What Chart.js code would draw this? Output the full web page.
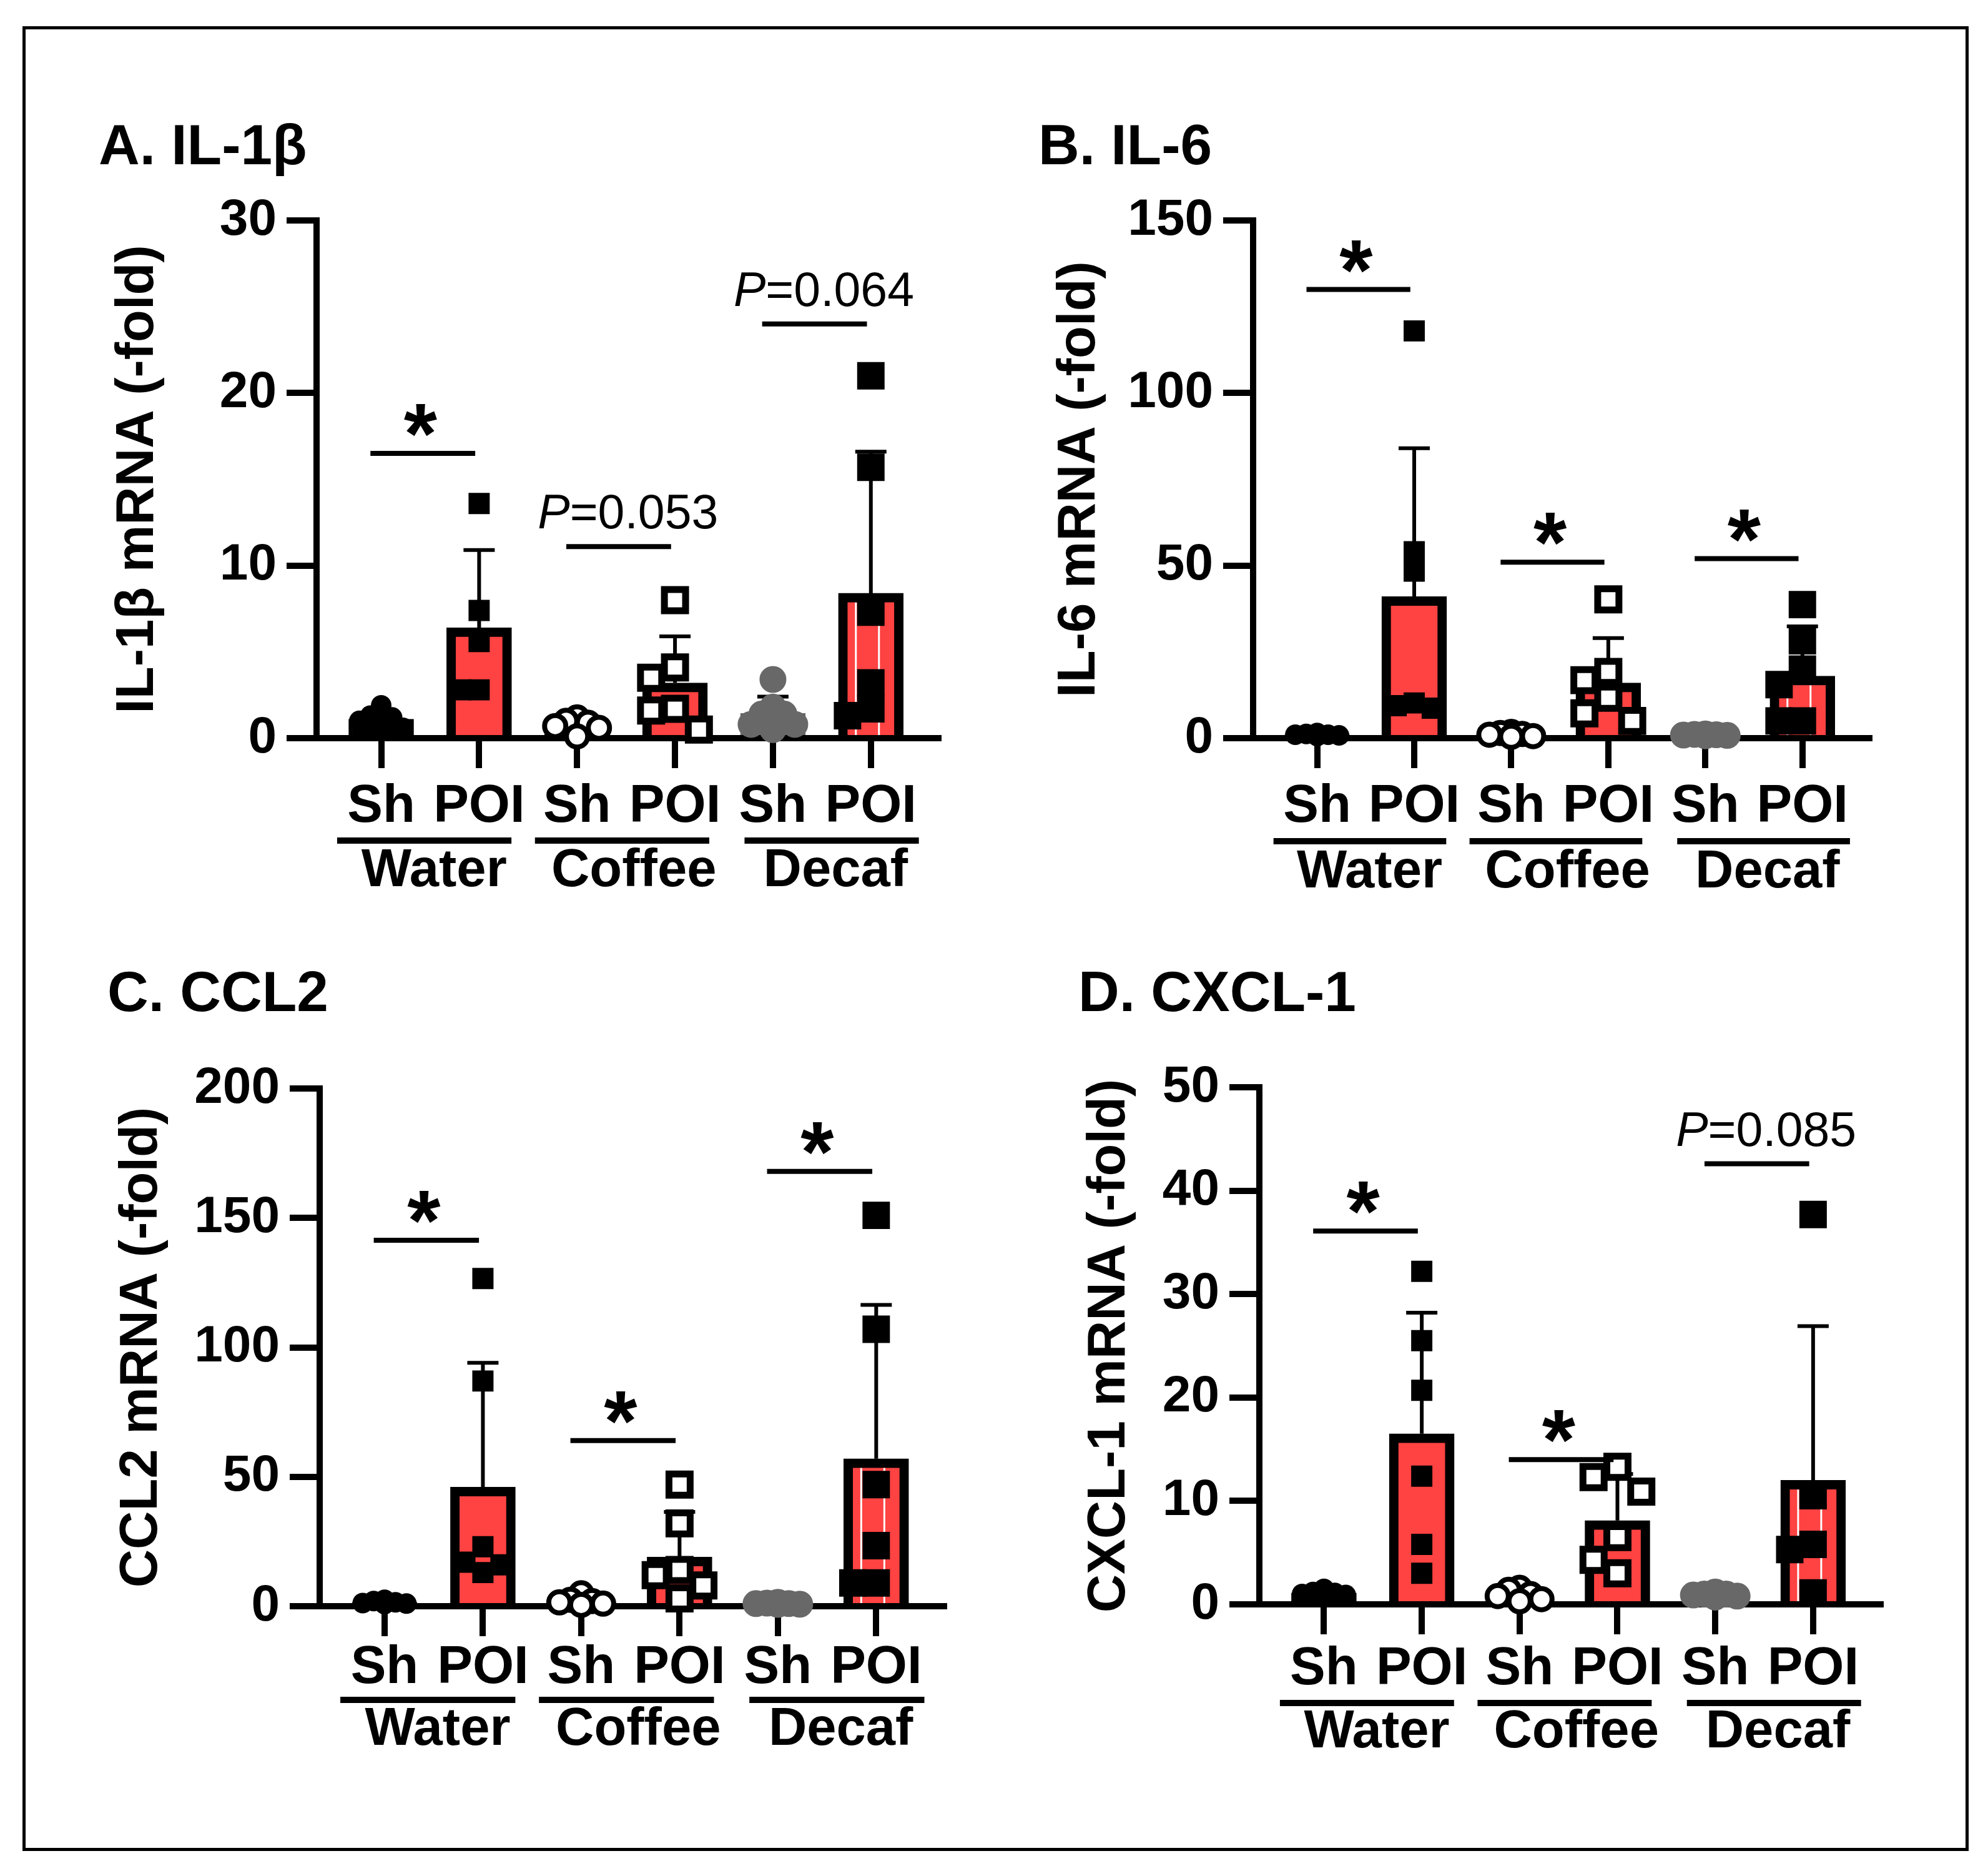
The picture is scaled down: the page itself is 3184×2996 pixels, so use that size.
<!DOCTYPE html>
<html><head><meta charset="utf-8">
<script src="https://cdn.jsdelivr.net/npm/chart.js@4.4.1/dist/chart.umd.min.js"></script>
<style>
html,body{margin:0;padding:0;background:#fff;width:3184px;height:2996px;overflow:hidden;}
#frame{position:absolute;left:36px;top:42px;width:3107px;height:2912px;border:5px solid #000;}
.pc{position:absolute;}
canvas{display:block;}
</style></head><body>
<div id="frame"></div>
<script>
// ---------------- DATA ----------------
// category order: Water Sh, Water POI, Coffee Sh, Coffee POI, Decaf Sh, Decaf POI
const categories = ['Sh', 'POI', 'Sh', 'POI', 'Sh', 'POI'];
const groups = ['Water', 'Coffee', 'Decaf'];
const panelTitles = ['A. IL-1β', 'B. IL-6', 'C. CCL2', 'D. CXCL-1'];
const yTitles = ['IL-1β mRNA (-fold)', 'IL-6 mRNA (-fold)', 'CCL2 mRNA (-fold)', 'CXCL-1 mRNA (-fold)'];
const yMax = [30, 150, 200, 50];
const yStep = [10, 50, 50, 10];

// Panel A: IL-1beta
const il1bMeans = [1.1, 6.4, 0.75, 3.2, 1.44, 8.4];
const il1bSD = [0.5, 4.5, 0.4, 2.7, 0.97, 8.2];
const il1bPoints = [
  [1.9, 1.3, 1.2, 1.0, 0.7, 0.6],
  [13.6, 7.4, 5.6, 2.8, 2.8],
  [1.2, 1.0, 0.9, 0.7, 0.6, 0.1],
  [8.0, 4.1, 3.5, 1.7, 1.6, 0.5],
  [3.4, 1.8, 1.4, 1.4, 0.8, 0.8, 0.5],
  [21.0, 15.7, 7.3, 3.2, 1.7, 1.3]
];
const il1bSigY = [16.5, 11.1, 24.0];
const il1bSigText = ['*', 'P=0.053', 'P=0.064'];

// Panel B: IL-6
const il6Means = [1.0, 41.0, 1.2, 16.0, 0.95, 18.0];
const il6SD = [0.3, 43.0, 0.5, 13.0, 0.2, 14.4];
const il6Points = [
  [1.5, 1.2, 1.0, 1.0, 0.8, 0.6],
  [118, 54, 48.4, 10.2, 9.4, 8.7],
  [1.8, 1.5, 1.2, 1.0, 0.6, 0.4],
  [40.2, 19.2, 16.8, 11.7, 7.2, 5.0],
  [1.2, 1.1, 1.0, 0.9, 0.8, 0.7],
  [38.7, 28.2, 20.0, 15.5, 5.0, 5.0]
];
const il6SigY = [130, 51, 52];
const il6SigText = ['*', '*', '*'];

// Panel C: CCL2
const ccl2Means = [1.5, 46.0, 2.1, 19.0, 1.0, 57.0];
const ccl2SD = [0.6, 48.0, 1.6, 17.4, 0.3, 59.4];
const ccl2Points = [
  [2.5, 2.0, 1.5, 1.2, 1.0, 0.8],
  [126.6, 87, 23, 17, 16, 13],
  [5.0, 2.5, 2.0, 1.5, 1.0, 0.5],
  [47, 32, 14, 12, 8, 3],
  [1.5, 1.2, 1.0, 1.0, 0.8, 0.7],
  [151, 107, 47, 23.4, 9, 9]
];
const ccl2SigY = [141.4, 64, 168];
const ccl2SigText = ['*', '*', '*'];

// Panel D: CXCL-1
const cxcl1Means = [1.1, 16.5, 0.9, 8.1, 0.93, 12.0];
const cxcl1SD = [0.25, 11.7, 0.5, 4.5, 0.2, 14.9];
const cxcl1Points = [
  [1.5, 1.2, 1.1, 1.0, 0.9, 0.8],
  [32.2, 25.5, 20.7, 12.4, 5.8, 3.0],
  [1.6, 1.4, 1.0, 0.8, 0.5, 0.3],
  [13.3, 12.3, 10.9, 6.5, 4.3, 3.0],
  [1.2, 1.0, 1.0, 0.9, 0.8, 0.7],
  [37.7, 10.5, 5.8, 5.3, 1.1]
];
const cxcl1SigY = [36.1, 14.0, 42.6];
const cxcl1SigText = ['*', '*', 'P=0.085'];

// ---------------- STYLE / LAYOUT ----------------
const FONT = '"Liberation Sans", Arial, Helvetica, sans-serif';
const RED = '#ff4242';
const GREY = '#686868';

const panelData = [
  {means: il1bMeans, sds: il1bSD, pts: il1bPoints, sigY: il1bSigY, sigText: il1bSigText},
  {means: il6Means, sds: il6SD, pts: il6Points, sigY: il6SigY, sigText: il6SigText},
  {means: ccl2Means, sds: ccl2SD, pts: ccl2Points, sigY: ccl2SigY, sigText: ccl2SigText},
  {means: cxcl1Means, sds: cxcl1SD, pts: cxcl1Points, sigY: cxcl1SigY, sigText: cxcl1SigText}
];

const panelGeo = [
  {cx:100,  cy:150,  W:1460, H:1330, axisX:507,  axisTop:353,  zeroY:1182, right:1503, titleX:158,  titleY:238,  yTitleX:222,  tickPad:12, ulOff:164, grpOff:214},
  {cx:1600, cy:150,  W:1500, H:1330, axisX:2007, axisTop:353,  zeroY:1182, right:2994, titleX:1663, titleY:238,  yTitleX:1730, tickPad:12, ulOff:165, grpOff:216},
  {cx:100,  cy:1500, W:1460, H:1400, axisX:512,  axisTop:1743, zeroY:2572, right:1512, titleX:172,  titleY:1594, yTitleX:228,  tickPad:1,  ulOff:150, grpOff:199},
  {cx:1600, cy:1500, W:1500, H:1400, axisX:2017, axisTop:1741, zeroY:2569, right:3012, titleX:1727, titleY:1594, yTitleX:1776, tickPad:6,  ulOff:158, grpOff:206}
];

const X_MIN = -0.66, X_MAX = 5.69;

// marker styles per category
const markerStyles = [
  {pointStyle:'circle', r:16.5, bg:'#000', bc:'#000', bw:0, px:34, sh:true},
  {pointStyle:'rect',   r:24,   bg:'#000', bc:'#000', bw:0, px:34, sh:false},
  {pointStyle:'circle', r:17,   bg:'#fff', bc:'#000', bw:8, px:42, sh:true},
  {pointStyle:'rect',   r:24,   bg:'#fff', bc:'#000', bw:11, px:45, sh:false},
  {pointStyle:'circle', r:17,   bg:GREY,   bc:GREY,   bw:9, px:43, sh:true},
  {pointStyle:'rect',   r:24,   bg:'#000', bc:'#000', bw:10, px:44, sh:false}
];
const barFill = ['#000', RED, '#fff', RED, GREY, RED];
const barEdge = ['#000', '#000', '#000', '#000', GREY, '#000'];
const barEdgeW = [6, 15, 8, 15, 6, 15];

// horizontal spreading of overlapping points (beeswarm style)
function swarmOffsets(values, ymax, markerPx, spacingPx, plotPx, dense) {
  const dy = markerPx * 0.9 / plotPx * ymax;
  const step = (dense ? 17.5 : markerPx * 0.85) / spacingPx;
  const order = values.map((v, i) => i).sort((a, b) => values[b] - values[a]);
  const placed = [];
  const out = new Array(values.length).fill(0);
  const cand = dense ? [0, -1, 1, -2, 2] : [0, -1, 1];
  for (const i of order) {
    const v = values[i];
    let best = 0, bestScore = Infinity;
    for (const c of cand) {
      const dx = c * step;
      let score = 0;
      placed.forEach(p => {
        if (Math.abs(p.dx - dx) < step * 0.9) score += Math.max(0, dy - Math.abs(p.v - v));
      });
      if (score < bestScore - 1e-9) { bestScore = score; best = dx; }
      if (score === 0) break;
    }
    placed.push({v, dx: best});
    out[i] = best;
  }
  return out;
}

// ---------------- PLUGINS ----------------
const errPlugin = {
  id: 'errbars',
  afterDatasetDraw(chart, args, opts) {
    if (args.index !== 0 || !opts || !opts.means) return;
    const ctx = chart.ctx, xs = chart.scales.x, ys = chart.scales.y;
    const meta = chart.getDatasetMeta(0);
    ctx.save();
    const el = meta.data[5];
    if (el) {
      const p = el.getProps(['x', 'y', 'base'], true);
      ctx.strokeStyle = '#fff';
      ctx.lineWidth = 3;
      [-24, 13].forEach(off => {
        ctx.beginPath();
        ctx.moveTo(p.x + off, p.y + 15);
        ctx.lineTo(p.x + off, p.base);
        ctx.stroke();
      });
    }
    ctx.strokeStyle = '#000';
    ctx.lineWidth = 6;
    ctx.lineCap = 'butt';
    opts.means.forEach((m, i) => {
      const x = xs.getPixelForValue(i);
      const y0 = ys.getPixelForValue(m);
      const y1 = ys.getPixelForValue(m + opts.sds[i]);
      ctx.beginPath();
      ctx.moveTo(x, y0);
      ctx.lineTo(x, y1);
      ctx.moveTo(x - 25, y1);
      ctx.lineTo(x + 25, y1);
      ctx.stroke();
    });
    ctx.restore();
  }
};

let starSize = null;
function getStarMetrics(ctx) {
  if (starSize) return starSize;
  ctx.save();
  ctx.font = `bold 100px ${FONT}`;
  const m = ctx.measureText('*');
  const h = m.actualBoundingBoxAscent + m.actualBoundingBoxDescent;
  const size = h > 0 ? 100 * 52 / h : 130;
  ctx.font = `bold ${size}px ${FONT}`;
  const m2 = ctx.measureText('*');
  starSize = {size, asc: m2.actualBoundingBoxAscent, desc: m2.actualBoundingBoxDescent};
  ctx.restore();
  return starSize;
}

const annoPlugin = {
  id: 'annos',
  afterDraw(chart, args, opts) {
    if (!opts || !opts.sigY) return;
    const ctx = chart.ctx, xs = chart.scales.x, ys = chart.scales.y;
    const g = opts.geo;
    const zero = ys.getPixelForValue(0);
    ctx.save();
    ctx.fillStyle = '#000';
    ctx.strokeStyle = '#000';
    opts.sigY.forEach((v, k) => {
      const i = 2 * k;
      const y = ys.getPixelForValue(v);
      const x0 = xs.getPixelForValue(i - 0.11), x1 = xs.getPixelForValue(i + 0.96);
      ctx.lineWidth = 8;
      ctx.beginPath(); ctx.moveTo(x0, y); ctx.lineTo(x1, y); ctx.stroke();
      const txt = opts.sigText[k];
      if (txt === '*') {
        const st = getStarMetrics(ctx);
        ctx.font = `bold ${st.size}px ${FONT}`;
        ctx.textAlign = 'center';
        ctx.textBaseline = 'alphabetic';
        const cy = y - 53;
        const base = cy - (st.desc - st.asc) / 2;
        ctx.fillText('*', xs.getPixelForValue(i + 0.4), base);
      } else {
        const cxp = xs.getPixelForValue(i + 0.52);
        const first = txt.charAt(0), rest = txt.slice(1);
        ctx.font = `italic 77px ${FONT}`;
        const w1 = ctx.measureText(first).width;
        ctx.font = `77px ${FONT}`;
        const w2 = ctx.measureText(rest).width;
        const left = cxp - (w1 + w2) / 2;
        ctx.textAlign = 'left';
        ctx.textBaseline = 'alphabetic';
        ctx.font = `italic 77px ${FONT}`;
        ctx.fillText(first, left, y - 29);
        ctx.font = `77px ${FONT}`;
        ctx.fillText(rest, left + w1, y - 29);
      }
    });
    const ulSpan = [[-0.45, 1.33], [-0.43, 1.35], [-0.29, 1.49]];
    const txtC = [0.54, 0.58, 0.64];
    groups.forEach((name, gi) => {
      const i = 2 * gi;
      const x0 = xs.getPixelForValue(i + ulSpan[gi][0]);
      const x1 = xs.getPixelForValue(i + ulSpan[gi][1]);
      const y = zero + g.ulOff;
      ctx.lineWidth = 10;
      ctx.beginPath(); ctx.moveTo(x0, y); ctx.lineTo(x1, y); ctx.stroke();
      ctx.font = `bold 85px ${FONT}`;
      ctx.textAlign = 'center';
      ctx.textBaseline = 'middle';
      ctx.fillText(name, xs.getPixelForValue(i + txtC[gi]), zero + g.grpOff);
    });
    ctx.restore();
  }
};

// ---------------- BUILD PANELS ----------------
panelData.forEach((P, pi) => {
  const g = panelGeo[pi];
  const wrap = document.createElement('div');
  wrap.className = 'pc';
  wrap.style.left = g.cx + 'px';
  wrap.style.top = g.cy + 'px';
  const cv = document.createElement('canvas');
  cv.width = g.W; cv.height = g.H;
  cv.style.width = g.W + 'px'; cv.style.height = g.H + 'px';
  wrap.appendChild(cv);
  document.body.appendChild(wrap);

  const plotPx = g.zeroY - g.axisTop;
  const spacingPx = (g.right - g.axisX) / (X_MAX - X_MIN);

  const datasets = [{
    type: 'bar',
    data: P.means.map((m, i) => ({x: i, y: m})),
    backgroundColor: barFill,
    borderColor: barEdge,
    borderWidth: barEdgeW,
    borderSkipped: 'start',
    barThickness: 104,
    order: 1
  }];
  P.pts.forEach((vals, ci) => {
    const ms = markerStyles[ci];
    const offs = swarmOffsets(vals, yMax[pi], ms.px, spacingPx, plotPx, ms.sh);
    datasets.push({
      type: 'scatter',
      data: vals.map((v, k) => ({x: ci + offs[k], y: v})),
      pointStyle: ms.pointStyle,
      pointRadius: ms.r,
      pointHoverRadius: ms.r,
      pointBackgroundColor: ms.bg,
      pointBorderColor: ms.bc,
      pointBorderWidth: ms.bw,
      clip: false,
      order: 0
    });
  });

  const lhT = 91 * 1.2;
  const tPadTop = g.titleY - g.cy - lhT / 2;
  const tPadBottom = g.axisTop - g.cy - tPadTop - lhT;
  const yTitlePad = Math.max(0, g.yTitleX - g.titleX - 51);

  new Chart(cv, {
    type: 'bar',
    data: {datasets},
    options: {
      responsive: false,
      devicePixelRatio: 1,
      animation: false,
      events: [],
      layout: {padding: {left: g.titleX - g.cx, right: g.cx + g.W - g.right, top: 0, bottom: 0}},
      plugins: {
        legend: {display: false},
        tooltip: {enabled: false},
        title: {
          display: true, text: panelTitles[pi], align: 'start', color: '#000',
          font: {family: FONT, size: 91, weight: 'bold', lineHeight: 1.2},
          padding: {top: tPadTop, bottom: tPadBottom}
        },
        errbars: {means: P.means, sds: P.sds},
        annos: {sigY: P.sigY, sigText: P.sigText, geo: g}
      },
      scales: {
        x: {
          type: 'linear', min: X_MIN, max: X_MAX, bounds: 'data', offset: false,
          afterBuildTicks: s => { s.ticks = [0, 1, 2, 3, 4, 5].map(v => ({value: v})); },
          afterFit: s => { s.height = g.cy + g.H - g.zeroY; },
          ticks: {
            callback: v => categories[Math.round(v)],
            autoSkip: false, maxRotation: 0, minRotation: 0,
            padding: g.tickPad, color: '#000',
            font: {family: FONT, size: 85, weight: 'bold'}
          },
          grid: {offset: false, drawOnChartArea: false, drawTicks: true, tickLength: 48, color: '#000', lineWidth: 10},
          border: {display: true, color: '#000', width: 10}
        },
        y: {
          min: 0, max: yMax[pi],
          afterFit: s => { s.width = g.axisX - g.titleX; },
          ticks: {stepSize: yStep[pi], padding: 16, color: '#000', font: {family: FONT, size: 82, weight: 'bold'}},
          grid: {drawOnChartArea: false, drawTicks: true, tickLength: 48, color: '#000', lineWidth: 10},
          border: {display: true, color: '#000', width: 10},
          title: {
            display: true, text: yTitles[pi], color: '#000',
            font: {family: FONT, size: 85, weight: 'bold', lineHeight: 1.2},
            padding: {top: yTitlePad, bottom: 0}
          }
        }
      }
    },
    plugins: [errPlugin, annoPlugin]
  });
});
</script>
</body></html>
